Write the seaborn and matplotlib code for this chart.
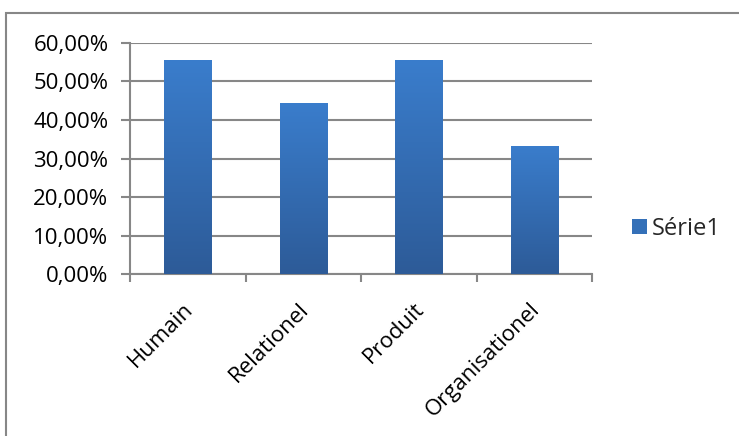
import numpy as np
import pandas as pd
import matplotlib
matplotlib.use("Agg")
import matplotlib.pyplot as plt
import seaborn as sns
from matplotlib.patches import Rectangle, Patch
from matplotlib.colors import LinearSegmentedColormap
from matplotlib.ticker import FuncFormatter, FixedLocator
from matplotlib.transforms import ScaledTranslation

categories = ["Humain", "Relationel", "Produit", "Organisationel"]
values = [55.56, 44.44, 55.56, 33.33]
series_name = "Série1"

sns.set_theme(style="white")
plt.rcParams['font.family'] = ['Open Sans', 'DejaVu Sans']

df = pd.DataFrame({"cat": categories, "val": values})

fig = plt.figure(figsize=(7.39, 4.36), dpi=100)
ax = fig.add_axes([130/739, 1-274/436, (592-130)/739, (274-43)/436])

sns.barplot(data=df, x="cat", y="val", ax=ax, color="#3a78c4", width=0.41,
            saturation=1, linewidth=0)

cmap = LinearSegmentedColormap.from_list("g", ["#2d5b98", "#3a7dcc"])
grad = np.linspace(0, 1, 256).reshape(-1, 1)
for p in ax.patches:
    x0, y0 = p.get_x(), p.get_y()
    w, h = p.get_width(), p.get_height()
    im = ax.imshow(grad, cmap=cmap, aspect="auto", origin="lower",
                   extent=[x0, x0 + w, y0, y0 + h], zorder=3)
    im.set_clip_path(p)
    p.set_zorder(2)

ax.set_xlim(-0.5, 3.5)
ax.set_ylim(0, 60)
ax.set_yticks(np.arange(0, 61, 10))
ax.yaxis.set_major_formatter(FuncFormatter(lambda v, _: f"{v:.2f}%".replace(".", ",")))
ax.yaxis.grid(True, color="#878787", linewidth=1.5)
ax.set_axisbelow(True)
ax.set_xlabel("")
ax.set_ylabel("")

for s in ["top", "right"]:
    ax.spines[s].set_visible(False)
for s in ["left", "bottom"]:
    ax.spines[s].set_color("#878787")
    ax.spines[s].set_linewidth(1.5)

ax.tick_params(axis="y", which="major", left=True, length=6.5, width=1.5,
               color="#878787", labelsize=16, labelcolor="black", pad=9)
ax.tick_params(axis="x", which="major", bottom=False, labelsize=16,
               labelcolor="black", pad=12)
ax.xaxis.set_minor_locator(FixedLocator([-0.5, 0.5, 1.5, 2.5, 3.5]))
ax.tick_params(axis="x", which="minor", bottom=True, length=6, width=1.5,
               color="#878787")
shift = ScaledTranslation(-5/100, 0, fig.dpi_scale_trans)
for lbl in ax.get_xticklabels():
    lbl.set_rotation(45)
    lbl.set_ha("right")
    lbl.set_rotation_mode("anchor")
    lbl.set_transform(lbl.get_transform() + shift)

handle = Patch(facecolor="#3470b8", edgecolor="none")
fig.legend([handle], [series_name], loc="center left",
           bbox_to_anchor=(632/739, 1-229/436), frameon=False, fontsize=17,
           handlelength=0.62, handleheight=0.62, handletextpad=0.2,
           borderaxespad=0, borderpad=0)

fig.add_artist(Rectangle((6/739, -0.1), 2, 1.1 - 13/436, transform=fig.transFigure,
                         fill=False, edgecolor="#878787", linewidth=1.5))

fig.savefig("out.png", dpi=100)
